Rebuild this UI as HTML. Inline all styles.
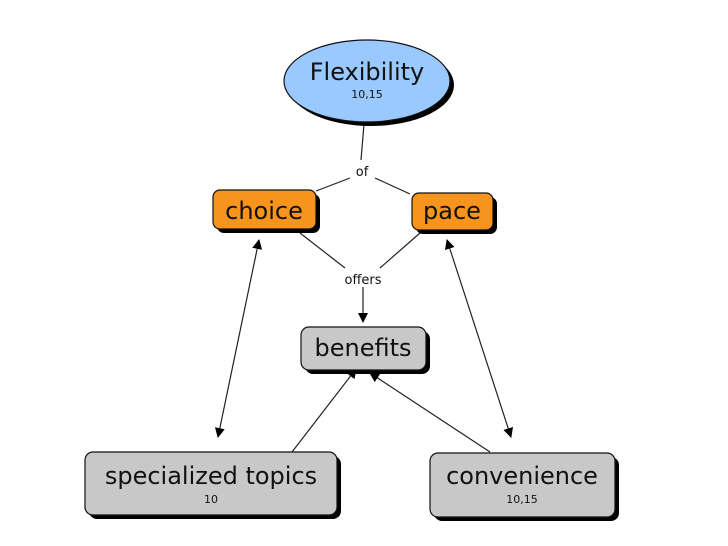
<!DOCTYPE html>
<html><head><style>
body{margin:0;background:#fff;width:728px;height:546px;overflow:hidden}
svg{display:block}
text{font-family:"DejaVu Sans","Liberation Sans",sans-serif;fill:#111}
</style></head><body>
<svg width="728" height="546" viewBox="0 0 728 546">
<defs>
<marker id="a" markerWidth="10" markerHeight="10" refX="9" refY="5" orient="auto" markerUnits="userSpaceOnUse"><path d="M0,0 L10,5 L0,10 z" fill="#000"/></marker>
<marker id="b" markerWidth="10" markerHeight="10" refX="1" refY="5" orient="auto" markerUnits="userSpaceOnUse"><path d="M10,0 L0,5 L10,10 z" fill="#000"/></marker>
</defs>
<g stroke="#222" stroke-width="1.2" fill="none">
<line x1="364" y1="124" x2="361" y2="160"/>
<line x1="350" y1="178" x2="316" y2="191"/>
<line x1="375" y1="178" x2="410" y2="194"/>
<line x1="300" y1="233" x2="345" y2="268"/>
<line x1="420" y1="233" x2="380" y2="268"/>
<line x1="363" y1="287" x2="363" y2="322" marker-end="url(#a)"/>
<line x1="259" y1="240" x2="218" y2="437" marker-start="url(#b)" marker-end="url(#a)"/>
<line x1="447" y1="240" x2="511" y2="437" marker-start="url(#b)" marker-end="url(#a)"/>
<line x1="292" y1="452" x2="356" y2="369" marker-end="url(#a)"/>
<line x1="490" y1="452" x2="370" y2="373" marker-end="url(#a)"/>
</g>
<text x="362" y="176" font-size="13" text-anchor="middle">of</text>
<text x="363" y="284" font-size="13" text-anchor="middle">offers</text>
<ellipse cx="371" cy="85" rx="83" ry="41" fill="#000"/>
<ellipse cx="367" cy="81" rx="83" ry="41" fill="#99c9ff" stroke="#111" stroke-width="1.2"/>
<text x="367" y="80" font-size="24" text-anchor="middle">Flexibility</text>
<text x="367" y="98" font-size="11" text-anchor="middle">10,15</text>
<rect x="217" y="194" width="103" height="39" rx="7" fill="#000"/>
<rect x="213" y="190" width="103" height="39" rx="7" fill="#f7941d" stroke="#111" stroke-width="1.2"/>
<text x="264" y="219" font-size="24" text-anchor="middle">choice</text>
<rect x="416" y="197" width="81" height="37" rx="7" fill="#000"/>
<rect x="412" y="193" width="81" height="37" rx="7" fill="#f7941d" stroke="#111" stroke-width="1.2"/>
<text x="452" y="219" font-size="24" text-anchor="middle">pace</text>
<rect x="305" y="331" width="125" height="43" rx="8" fill="#000"/>
<rect x="301" y="327" width="125" height="43" rx="8" fill="#c8c8c8" stroke="#111" stroke-width="1.2"/>
<text x="363" y="356" font-size="24" text-anchor="middle">benefits</text>
<rect x="89" y="456" width="252" height="63" rx="8" fill="#000"/>
<rect x="85" y="452" width="252" height="63" rx="8" fill="#c8c8c8" stroke="#111" stroke-width="1.2"/>
<text x="211" y="484" font-size="24" text-anchor="middle">specialized topics</text>
<text x="211" y="503" font-size="11" text-anchor="middle">10</text>
<rect x="434" y="457" width="185" height="64" rx="8" fill="#000"/>
<rect x="430" y="453" width="185" height="64" rx="8" fill="#c8c8c8" stroke="#111" stroke-width="1.2"/>
<text x="522" y="484" font-size="24" text-anchor="middle">convenience</text>
<text x="522" y="503" font-size="11" text-anchor="middle">10,15</text>
</svg>
</body></html>
